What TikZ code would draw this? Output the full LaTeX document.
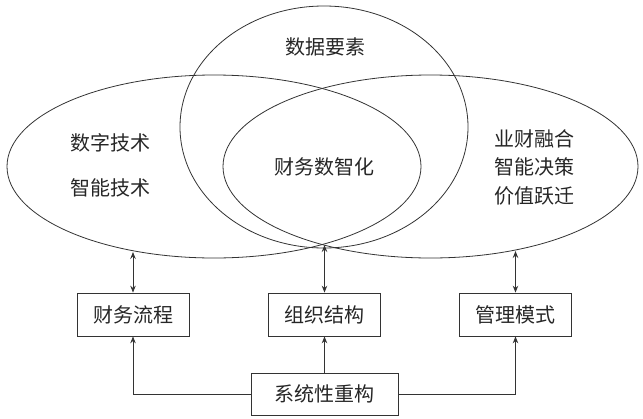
\documentclass[tikz,border=0pt]{standalone}
\usepackage{fontspec}
\newfontfamily\cjk{Noto Sans CJK SC}
\usetikzlibrary{arrows.meta}
\begin{document}
\begin{tikzpicture}[x=1pt,y=-1pt,
  line/.style={draw=black!80,line width=0.8pt},
  txt/.style={font=\cjk\fontsize{20}{28.5}\selectfont,text=black!85,align=center,inner sep=0pt},
  box/.style={line,rectangle,minimum width=112pt,minimum height=43pt,inner sep=0pt,font=\cjk\fontsize{20}{24}\selectfont,text=black!85},
  arr/.style={line,-{Stealth[length=7pt,width=5.5pt,inset=2.5pt]}},
  darr/.style={line,{Stealth[length=7pt,width=5.5pt,inset=2.5pt]}-{Stealth[length=7pt,width=5.5pt,inset=2.5pt]}}
]
\useasboundingbox (0,0) rectangle (643,418);
% ellipses
\draw[line] (324,127) ellipse [x radius=144pt, y radius=121pt];
\draw[line] (214,166.5) ellipse [x radius=207pt, y radius=91.5pt];
\draw[line] (430.5,166.5) ellipse [x radius=207.5pt, y radius=91.5pt];
% texts in ellipses
\node[txt] (data) at (325,47) {数据要素};
\node[txt] (core) at (324.5,167) {财务数智化};
\node[txt] (tech1) at (110,143) {数字技术};
\node[txt] (tech2) at (110,188) {智能技术};
\node[txt] (right) at (534,167) {业财融合\\智能决策\\价值跃迁};
% boxes
\node[box] (b1) at (133,314.5) {财务流程};
\node[box] (b2) at (324.5,314.5) {组织结构};
\node[box] (b3) at (515.5,314.5) {管理模式};
\node[box,minimum width=147pt,minimum height=42pt] (bot) at (324.5,394) {系统性重构};
% ellipse anchor points
\coordinate (e1) at (133,252);
\coordinate (e2) at (324.5,245);
\coordinate (e3) at (515.5,251);
% connectors
\draw[darr] (e1) -- (b1.north);
\draw[darr] (e2) -- (b2.north);
\draw[darr] (e3) -- (b3.north);
\draw[arr] (bot.west) -| (b1.south);
\draw[arr] (bot.north) -- (b2.south);
\draw[arr] (bot.east) -| (b3.south);
\end{tikzpicture}
\end{document}
